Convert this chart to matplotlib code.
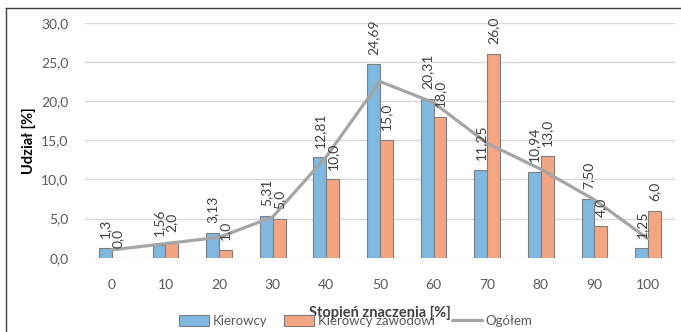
import numpy as np
import matplotlib.pyplot as plt
from matplotlib.lines import Line2D

plt.rcParams['font.family'] = ['Lato', 'DejaVu Sans']

# stopien znaczenia [%]
kategorie = ['0', '10', '20', '30', '40', '50', '60', '70', '80', '90', '100']
kierowcy = [1.3, 1.56, 3.13, 5.31, 12.81, 24.69, 20.31, 11.25, 10.94, 7.50, 1.25]
kierowcy_dec = [1, 2, 2, 2, 2, 2, 2, 2, 2, 2, 2]
zawodowi = [0.0, 2.0, 1.0, 5.0, 10.0, 15.0, 18.0, 26.0, 13.0, 4.0, 6.0]
ogolem = [1.0, 1.8, 2.6, 5.2, 12.9, 22.5, 19.8, 14.6, 11.3, 7.4, 2.4]

c_blue = '#7fb8e0'
c_orange = '#f4a683'
c_edge = '#7f7f7f'
c_line = '#a5a5a5'
c_text = '#595959'

fig = plt.figure(figsize=(6.81, 3.32), dpi=100)
ax = fig.add_axes([0.1248, 0.2238, 0.8662, 0.7078])

x = np.arange(len(kategorie))
w = 0.24
ax.bar(x - w / 2, kierowcy, w, color=c_blue, edgecolor=c_edge, linewidth=0.8,
       label='Kierowcy', zorder=2)
ax.bar(x + w / 2, zawodowi, w, color=c_orange, edgecolor=c_edge, linewidth=0.8,
       label='Kierowcy zawodowi', zorder=2)
ax.plot(x, ogolem, color=c_line, lw=2.3, solid_capstyle='round',
        solid_joinstyle='round', label='Ogółem', zorder=3)

for xi, v, d in zip(x, kierowcy, kierowcy_dec):
    ax.annotate(f'{v:.{d}f}'.replace('.', ','), (xi - w / 2, v), xytext=(0, 7),
                textcoords='offset points', rotation=90, ha='center', va='bottom',
                fontsize=10, color='#404040', zorder=4)
for xi, v in zip(x, zawodowi):
    ax.annotate(f'{v:.1f}'.replace('.', ','), (xi + w / 2, v), xytext=(0, 7),
                textcoords='offset points', rotation=90, ha='center', va='bottom',
                fontsize=10, color='#404040', zorder=4)

ax.set_xlim(-0.5, len(kategorie) - 0.5)
ax.set_ylim(0, 30)
ax.set_yticks(np.arange(0, 31, 5))
ax.set_yticklabels([f'{v:.1f}'.replace('.', ',') for v in np.arange(0, 31, 5)])
ax.set_xticks(x)
ax.set_xticklabels(kategorie)
ax.tick_params(axis='both', length=0, labelsize=10, labelcolor=c_text)
ax.tick_params(axis='x', pad=15)
ax.tick_params(axis='y', pad=12)
ax.grid(axis='y', color='#d9d9d9', lw=1, zorder=0)
ax.set_axisbelow(True)
for s in ax.spines.values():
    s.set_visible(False)

ax.set_ylabel('Udział [%]', fontsize=10.5, fontweight='bold', color='#000000')
ax.yaxis.set_label_coords(-0.083, 0.5)
fig.text(0.558, 0.036, 'Stopień znaczenia [%]', ha='center', va='bottom',
         fontsize=10.5, fontweight='bold', color='#404040')

h, l = ax.get_legend_handles_labels()
order = [l.index('Kierowcy'), l.index('Kierowcy zawodowi'), l.index('Ogółem')]
fig.legend([h[i] for i in order], [l[i] for i in order], loc='center',
           bbox_to_anchor=(0.522, 0.033), ncol=3, frameon=False,
           fontsize=9.5, handlelength=2.3, handleheight=0.8, handletextpad=0.25,
           columnspacing=1.3, labelcolor=c_text)

# chart frame (top and left edge)
fig.add_artist(Line2D([6 / 681, 1], [1 - 8 / 332] * 2, color='#404040', lw=1))
fig.add_artist(Line2D([6 / 681] * 2, [0, 1 - 8 / 332], color='#404040', lw=1))

plt.savefig('out.png', dpi=100)
